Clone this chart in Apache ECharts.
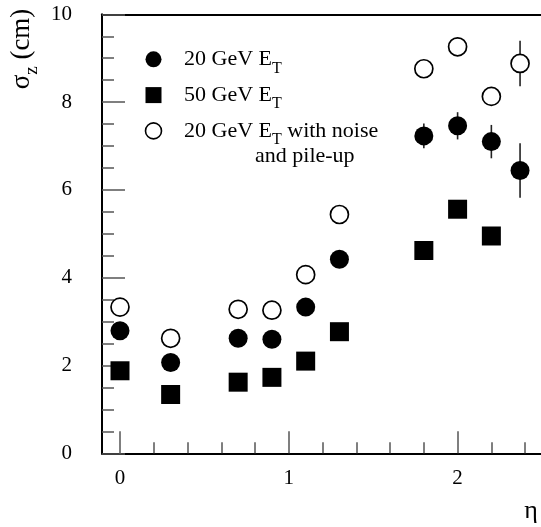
<!DOCTYPE html>
<html>
<head>
<meta charset="utf-8">
<script src="https://cdn.jsdelivr.net/npm/echarts@6/dist/echarts.min.js"></script>
<style>
  html, body { margin: 0; padding: 0; background: #fff; }
  #chart { width: 541px; height: 527px; }
</style>
</head>
<body>
<div id="chart"></div>
<script>
// Pseudorapidity bins
const eta = [0, 0.3, 0.7, 0.9, 1.1, 1.3, 1.8, 2.0, 2.2, 2.37];
const etaSquares = [0, 0.3, 0.7, 0.9, 1.1, 1.3, 1.8, 2.0, 2.2];

// sigma_z (cm) per bin
const sigma20 = [2.79, 2.07, 2.62, 2.60, 3.33, 4.42, 7.23, 7.46, 7.10, 6.44];
const sigma50 = [1.88, 1.34, 1.62, 1.73, 2.10, 2.77, 4.62, 5.56, 4.95];
const sigma20Noise = [3.33, 2.62, 3.28, 3.26, 4.07, 5.44, 8.76, 9.26, 8.13, 8.88];

// Errors that stick out of the markers (null = hidden inside the marker)
const err20 = [null, null, null, null, null, null, 0.28, 0.31, 0.38, 0.62];
const err20Noise = [null, null, null, null, null, null, null, null, null, 0.52];

const seriesNames = ['20 GeV E_T', '50 GeV E_T', '20 GeV E_T with noise and pile-up'];
const legendText = [
  '{n|20 GeV E}{s|T}',
  '{n|50 GeV E}{s|T}',
  '{n|20 GeV E}{s|T}{n| with noise}'
];
const legendContinuation = 'and pile-up';
const xTitle = 'η';
const yTitleRich = '{a|σ}{s|z}{a| (cm)}';

const SERIF = '"Liberation Serif", "Times New Roman", serif';

const pairs = (xs, ys) => xs.map((x, i) => [x, ys[i]]);
const bars = (xs, ys, es) => xs
  .map((x, i) => es[i] == null ? null : [x, ys[i] - es[i], ys[i] + es[i]])
  .filter(d => d);

const tickStyle = { color: '#555', width: 1.5 };
const labelStyle = { fontFamily: SERIF, fontSize: 21, color: '#000' };

// plot box: eta = 0 at x = 120, 168.8 px per unit of eta, sigma 0..10 over 439 px
const PLOT_TOP = 14.3;
const PLOT_HEIGHT = 439;
const X_ZERO = 120;
const X_SCALE = 168.8;
const X_MAX = 3;
const FRAME_LEFT = 102;

const chart = echarts.init(document.getElementById('chart'));

function errorBarSeries(data) {
  return {
    type: 'custom',
    xAxisIndex: 0, yAxisIndex: 0,
    z: 1,
    silent: true,
    data: data,
    renderItem: function (params, api) {
      const p1 = api.coord([api.value(0), api.value(1)]);
      const p2 = api.coord([api.value(0), api.value(2)]);
      return {
        type: 'line',
        shape: { x1: p1[0], y1: p1[1], x2: p2[0], y2: p2[1] },
        style: { stroke: '#222', lineWidth: 1.6 }
      };
    }
  };
}

const option = {
  animation: false,
  backgroundColor: '#fff',
  grid: [
    // data grid: eta = 0 at its left edge; the frame is drawn 18px further left
    { left: X_ZERO, width: X_MAX * X_SCALE, top: PLOT_TOP, height: PLOT_HEIGHT,
      outerBoundsMode: 'none', containLabel: false },
    // frame grid carrying the bottom and top border lines
    { left: FRAME_LEFT, width: X_MAX * X_SCALE + (X_ZERO - FRAME_LEFT), top: PLOT_TOP, height: PLOT_HEIGHT,
      outerBoundsMode: 'none', containLabel: false }
  ],
  xAxis: [
    {
      gridIndex: 0, type: 'value', min: 0, max: X_MAX, interval: 1,
      axisLine: { show: false, onZero: false },
      axisTick: { show: true, inside: true, length: 22, lineStyle: tickStyle },
      minorTick: { show: true, splitNumber: 5, length: 11, lineStyle: tickStyle },
      splitLine: { show: false },
      axisLabel: Object.assign({ margin: 15 }, labelStyle)
    },
    {
      gridIndex: 1, type: 'value', min: 0, max: 1, position: 'bottom',
      axisLine: { show: true, onZero: false, lineStyle: { color: '#000', width: 2 } },
      axisTick: { show: false }, axisLabel: { show: false }, splitLine: { show: false }
    },
    {
      gridIndex: 1, type: 'value', min: 0, max: 1, position: 'top',
      axisLine: { show: true, onZero: false, lineStyle: { color: '#000', width: 1.8 } },
      axisTick: { show: false }, axisLabel: { show: false }, splitLine: { show: false }
    }
  ],
  yAxis: [
    {
      gridIndex: 0, type: 'value', min: 0, max: 10, interval: 2,
      offset: X_ZERO - FRAME_LEFT,
      axisLine: { show: true, onZero: false, lineStyle: { color: '#000', width: 2 } },
      axisTick: { show: true, inside: true, length: 23, lineStyle: tickStyle },
      minorTick: { show: true, splitNumber: 4, length: 12, lineStyle: tickStyle },
      splitLine: { show: false },
      axisLabel: Object.assign({ margin: 30 }, labelStyle)
    },
    { gridIndex: 1, type: 'value', show: false, min: 0, max: 1 }
  ],
  legend: {
    orient: 'vertical',
    left: 144.7, top: 48.3, padding: 0,
    itemWidth: 51, itemHeight: 16, itemGap: 7.8,
    symbolKeepAspect: true,
    selectedMode: false,
    data: [
      { name: seriesNames[0], icon: 'circle', itemStyle: { color: '#000' } },
      { name: seriesNames[1], icon: 'path://M0,0H10V10H0Z', itemStyle: { color: '#000' } },
      { name: seriesNames[2], icon: 'circle',
        itemStyle: { color: '#fff', borderColor: '#000', borderWidth: 1.6 } }
    ],
    formatter: function (name) { return legendText[seriesNames.indexOf(name)]; },
    textStyle: {
      color: '#000',
      rich: {
        n: { fontFamily: SERIF, fontSize: 22, lineHeight: 34, verticalAlign: 'middle', color: '#000' },
        s: { fontFamily: SERIF, fontSize: 16, lineHeight: 16, verticalAlign: 'bottom', color: '#000' }
      }
    }
  },
  graphic: [
    {
      type: 'text', left: 255, top: 145,
      style: { text: legendContinuation, fontFamily: SERIF, fontSize: 22, fill: '#000' }
    },
    {
      type: 'text', x: 531, y: 511,
      style: { text: xTitle, fontFamily: SERIF, fontSize: 26, fill: '#000',
               align: 'center', verticalAlign: 'middle' }
    },
    {
      type: 'text', x: 22, y: 49, rotation: Math.PI / 2,
      style: {
        text: yTitleRich, align: 'center', verticalAlign: 'middle',
        rich: {
          a: { fontFamily: SERIF, fontSize: 27, lineHeight: 40, verticalAlign: 'middle', fill: '#000' },
          s: { fontFamily: SERIF, fontSize: 19, lineHeight: 19, verticalAlign: 'bottom', fill: '#000' }
        }
      }
    }
  ],
  series: [
    errorBarSeries(bars(eta, sigma20, err20)),
    errorBarSeries(bars(eta, sigma20Noise, err20Noise)),
    {
      name: seriesNames[0], type: 'scatter', xAxisIndex: 0, yAxisIndex: 0, z: 3,
      symbol: 'circle', symbolSize: 19,
      itemStyle: { color: '#000', opacity: 1 },
      data: pairs(eta, sigma20)
    },
    {
      name: seriesNames[1], type: 'scatter', xAxisIndex: 0, yAxisIndex: 0, z: 3,
      symbol: 'rect', symbolSize: 19,
      itemStyle: { color: '#000', opacity: 1 },
      data: pairs(etaSquares, sigma50)
    },
    {
      name: seriesNames[2], type: 'scatter', xAxisIndex: 0, yAxisIndex: 0, z: 3,
      symbol: 'circle', symbolSize: 18,
      itemStyle: { color: '#fff', borderColor: '#000', borderWidth: 1.7, opacity: 1 },
      data: pairs(eta, sigma20Noise)
    }
  ]
};

chart.setOption(option);
</script>
</body>
</html>
